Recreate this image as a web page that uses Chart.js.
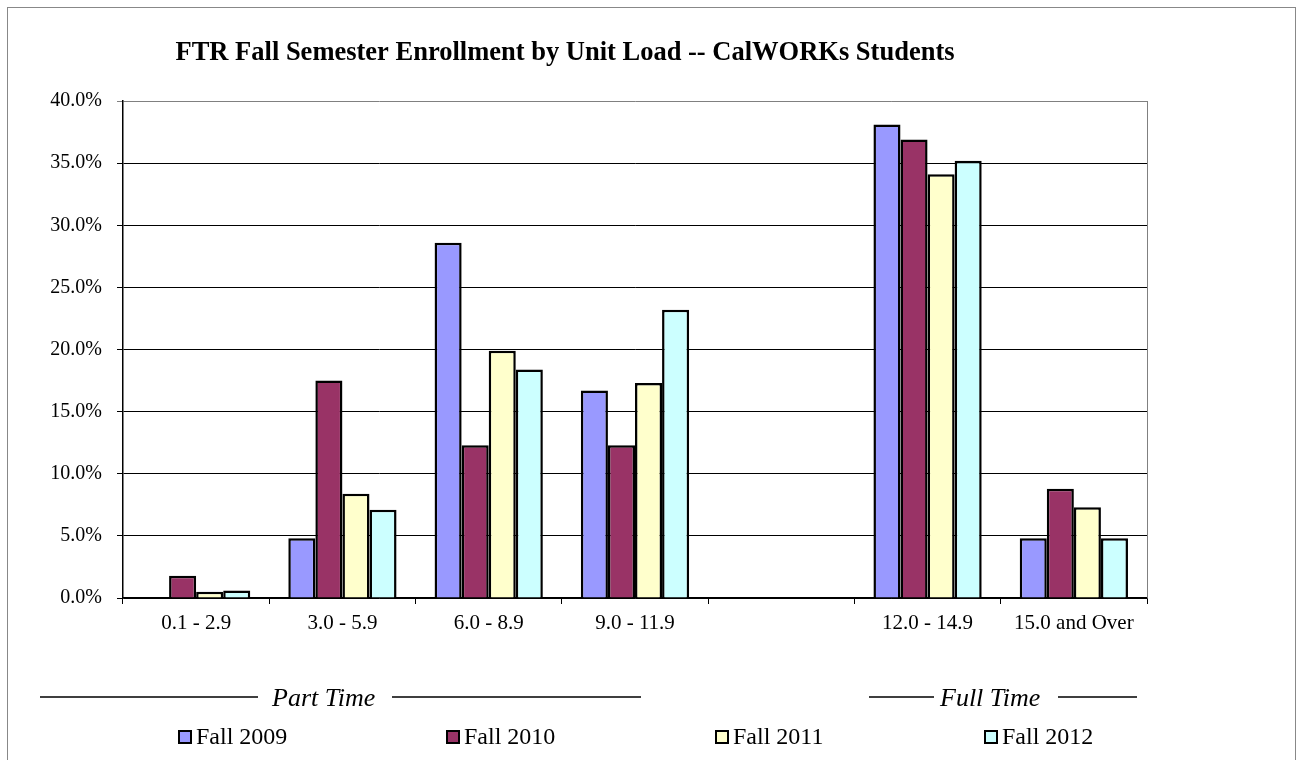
<!DOCTYPE html>
<html>
<head>
<meta charset="utf-8">
<script src="https://cdn.jsdelivr.net/npm/chart.js@4"></script>
<style>
  html, body { margin: 0; padding: 0; background: #fff; }
  #wrap { width: 1296px; height: 760px; position: relative; }
</style>
</head>
<body>
<div id="wrap"><canvas id="myChart" width="1296" height="760"></canvas></div>
<script>
let categories = ['0.1 - 2.9', '3.0 - 5.9', '6.0 - 8.9', '9.0 - 11.9', '', '12.0 - 14.9', '15.0 and Over'];
let fall2009 = [0, 4.8, 28.6, 16.7, null, 38.1, 4.8];
let fall2010 = [1.8, 17.5, 12.3, 12.3, null, 36.9, 8.8];
let fall2011 = [0.5, 8.4, 19.9, 17.3, null, 34.1, 7.3];
let fall2012 = [0.6, 7.1, 18.4, 23.2, null, 35.2, 4.8];
let seriesNames = ['Fall 2009', 'Fall 2010', 'Fall 2011', 'Fall 2012'];
let seriesColors = ['#9999ff', '#993366', '#ffffcc', '#ccffff'];
let titleText = 'FTR Fall Semester Enrollment by Unit Load -- CalWORKs Students';

const serif = '"Liberation Serif", "Times New Roman", serif';
var ctx = document.getElementById('myChart').getContext('2d');

// frame, title, part/full time brackets and legend
const extras = {
  id: 'extras',
  beforeDraw(chart) {
    let c = chart.ctx;
    c.save();
    c.fillStyle = '#fff';
    c.fillRect(0, 0, chart.width, chart.height);
    c.strokeStyle = '#888';
    c.lineWidth = 1;
    c.strokeRect(7.5, 7.5, 1288, 800);
    c.restore();
  },
  afterDraw(chart) {
    let c = chart.ctx;
    let area = chart.chartArea;
    c.save();
    // right border of plot area
    c.strokeStyle = '#808080';
    c.lineWidth = 1;
    c.beginPath();
    c.moveTo(area.right + 0.5, area.top);
    c.lineTo(area.right + 0.5, area.bottom);
    c.stroke();

    c.fillStyle = '#000';
    c.font = 'bold 26.5px ' + serif;
    c.textAlign = 'center';
    c.textBaseline = 'middle';
    c.fillText(titleText, 565, 53);

    // bracket labels
    c.font = 'italic 26px ' + serif;
    c.textAlign = 'left';
    c.strokeStyle = '#000';
    c.lineWidth = 1.5;
    let brackets = [
      { text: 'Part Time', left: [40, 258], textX: 272, right: [392, 641] },
      { text: 'Full Time', left: [869, 934], textX: 940, right: [1058, 1137] }
    ];
    brackets.forEach(b => {
      let y = 697;
      c.beginPath();
      c.moveTo(b.left[0], y);
      c.lineTo(b.left[1], y);
      c.moveTo(b.right[0], y);
      c.lineTo(b.right[1], y);
      c.stroke();
      c.fillText(b.text, b.textX, y + 2);
    });

    // legend
    c.font = '24px ' + serif;
    let startX = [179, 447, 716, 985];
    chart.data.datasets.forEach((ds, i) => {
      let x = startX[i];
      let y = 737;
      c.fillStyle = ds.backgroundColor;
      c.fillRect(x, y - 6, 12, 12);
      c.strokeStyle = '#000';
      c.lineWidth = 2;
      c.strokeRect(x, y - 6, 12, 12);
      c.fillStyle = '#000';
      c.fillText(ds.label, x + 17, y + 1);
    });
    c.restore();
  }
};

const datasets = [fall2009, fall2010, fall2011, fall2012].map((vals, i) => ({
  label: seriesNames[i],
  data: vals,
  backgroundColor: seriesColors[i],
  borderColor: '#000',
  borderWidth: 2.5,
  borderSkipped: 'bottom',
  categoryPercentage: 0.74,
  barPercentage: 1.0
}));

var myChart = new Chart(ctx, {
  type: 'bar',
  data: { labels: categories, datasets: datasets },
  options: {
    responsive: false,
    animation: false,
    layout: { padding: { top: 101, right: 149, bottom: 122, left: 0 } },
    plugins: {
      legend: { display: false },
      title: { display: false },
      tooltip: { enabled: false }
    },
    scales: {
      x: {
        afterFit: s => { s.height = 40; },
        border: { color: '#000', width: 1.5 },
        grid: { offset: true, drawOnChartArea: false, tickLength: 6, color: '#000' },
        ticks: { color: '#000', padding: 7, font: { family: serif, size: 21 } }
      },
      y: {
        min: 0,
        max: 40,
        afterFit: s => { s.width = 123; },
        border: { color: '#000', width: 1.5 },
        grid: {
          tickLength: 6,
          color: c => (c.tick && c.tick.value === 40 ? '#808080' : '#000'),
          lineWidth: 1
        },
        ticks: {
          stepSize: 5,
          color: '#000',
          padding: 15,
          font: { family: serif, size: 20 },
          callback: v => v.toFixed(1) + '%'
        }
      }
    }
  },
  plugins: [extras]
});
</script>
</body>
</html>
